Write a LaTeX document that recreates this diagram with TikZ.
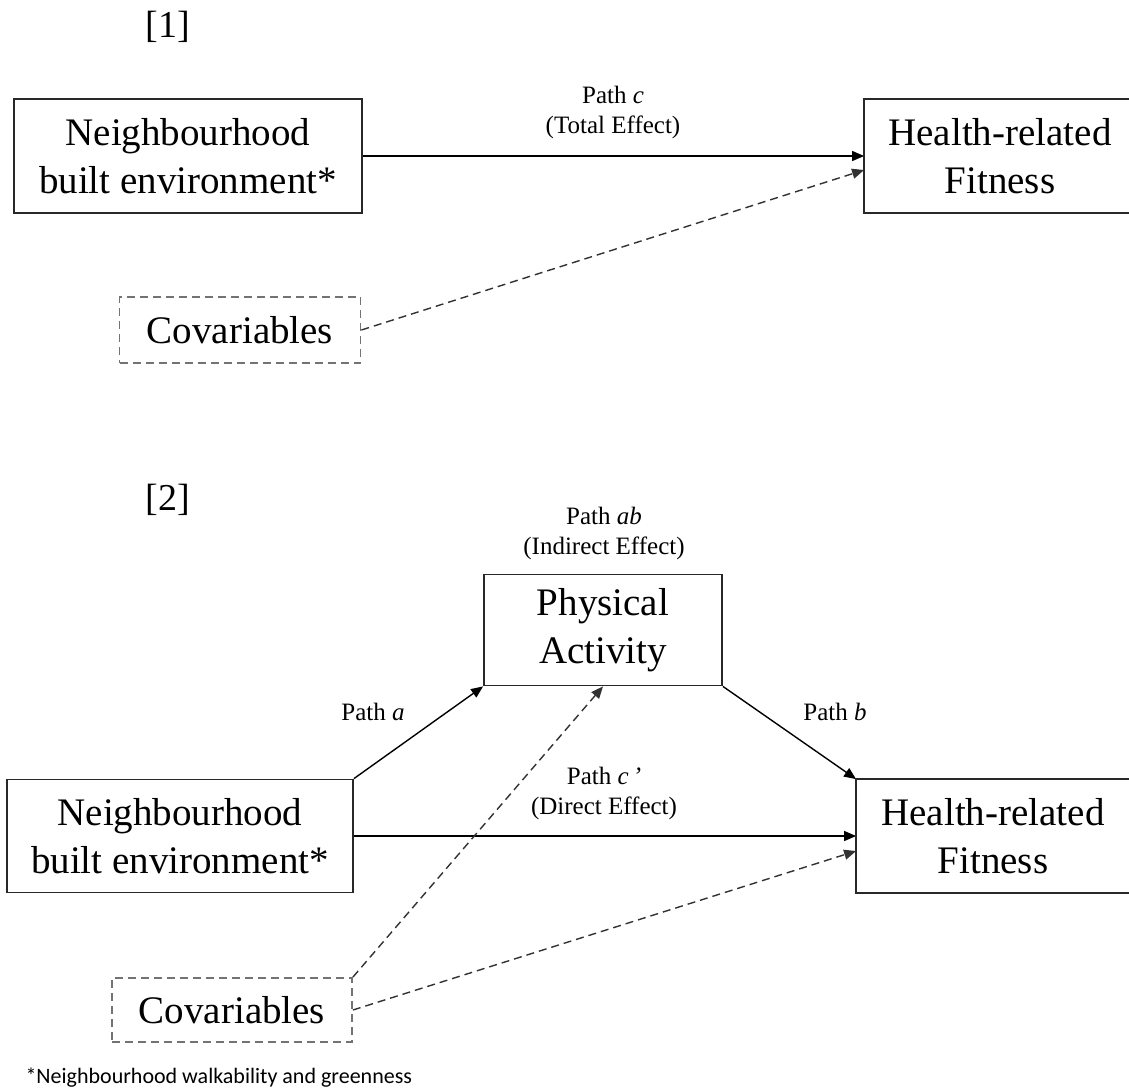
\documentclass[tikz,border=0pt]{standalone}
\usepackage{fontspec}
\setmainfont{Liberation Serif}
\newfontfamily\notefont{Carlito}
\usepackage{tikz}
\usetikzlibrary{arrows.meta}
\definecolor{edge}{RGB}{40, 40, 40}
\definecolor{covedge}{RGB}{115, 115, 115}
\definecolor{covline}{RGB}{50, 50, 50}

\begin{document}
\begin{tikzpicture}[x=1pt, y=-1pt,
  box/.style={draw=edge, line width=1.8pt, inner sep=0pt, align=center,
              font=\fontsize{39}{48}\selectfont},
  openbox/.style={box, draw=none},
  covbox/.style={box, draw=covedge, dash pattern=on 8pt off 5pt},
  pathlabel/.style={align=center, font=\fontsize{25}{30}\selectfont},
  effect/.style={line width=1.4pt, -{Triangle[length=12pt, width=10pt]}},
  covpath/.style={effect, draw=covline, dash pattern=on 8pt off 5pt}]
  \pgfmathsetmacro{\dy}{473}

  \useasboundingbox (0, 0) rectangle (1129, 1090);
  \clip (0, 0) rectangle (1129, 1090);

  \begin{scope}[shift={(0, 0)}]
    \node[font=\fontsize{38}{46}\selectfont] (num1) at (168, 27) {[1]};

    \node[box, minimum width=348, minimum height=114] (nbe1) at (188, 156)
      {Neighbourhood\\built environment*};
    \node[openbox, minimum width=270, minimum height=112] (hrf1) at (1000, 156)
      {Health-related\\Fitness};
    \node[covbox, minimum width=241, minimum height=66] (cov1) at (240, 330)
      {Covariables};

    \node[pathlabel] (pathc) at (613, 112) {Path \textit{c}\\(Total Effect)};

    \draw[effect] (nbe1) -- (hrf1);
    \draw[covpath] (cov1.east) -- ([yshift=-14pt]hrf1.west);
  \end{scope}

  \begin{scope}[shift={(0, \dy)}]
    \node[font=\fontsize{38}{46}\selectfont] (num2) at (168, 27) {[2]};

    \node[box, minimum width=238, minimum height=111] (pa2) at (603, 157)
      {Physical\\Activity};
    \node[box, minimum width=346, minimum height=113] (nbe2) at (180, 363)
      {Neighbourhood\\built environment*};
    \node[openbox, minimum width=272, minimum height=112] (hrf2) at (993, 363)
      {Health-related\\Fitness};
    \node[covbox, minimum width=240, minimum height=64] (cov2) at (232, 537)
      {Covariables};

    \node[pathlabel] (pathab) at (604, 60) {Path \textit{ab}\\(Indirect Effect)};
    \node[pathlabel] (patha) at (373, 239) {Path \textit{a}};
    \node[pathlabel] (pathb) at (835, 239) {Path \textit{b}};
    \node[pathlabel] (pathcc) at (604, 320) {Path \textit{c\,'}\\(Direct Effect)};

    \draw[effect] (nbe2.north east) -- (pa2.south west);
    \draw[effect] (pa2.south east) -- (hrf2.north west);
    \draw[effect] (nbe2) -- (hrf2);
    \draw[covpath] (cov2.north east) -- (pa2.south);
    \draw[covpath] (cov2.east) -- ([yshift=-15pt]hrf2.west);

    \node[anchor=west, font=\notefont\fontsize{22}{26}\selectfont] (note) at (22, 605)
      {*Neighbourhood walkability and greenness};
  \end{scope}

  % right side runs past the page
  \foreach \b in {hrf1, hrf2} {
    \draw[draw=edge, line width=1.8pt] ([xshift=20pt]\b.north east) -- (\b.north west)
      -- (\b.south west) -- ([xshift=20pt]\b.south east);
  }
\end{tikzpicture}
\end{document}
